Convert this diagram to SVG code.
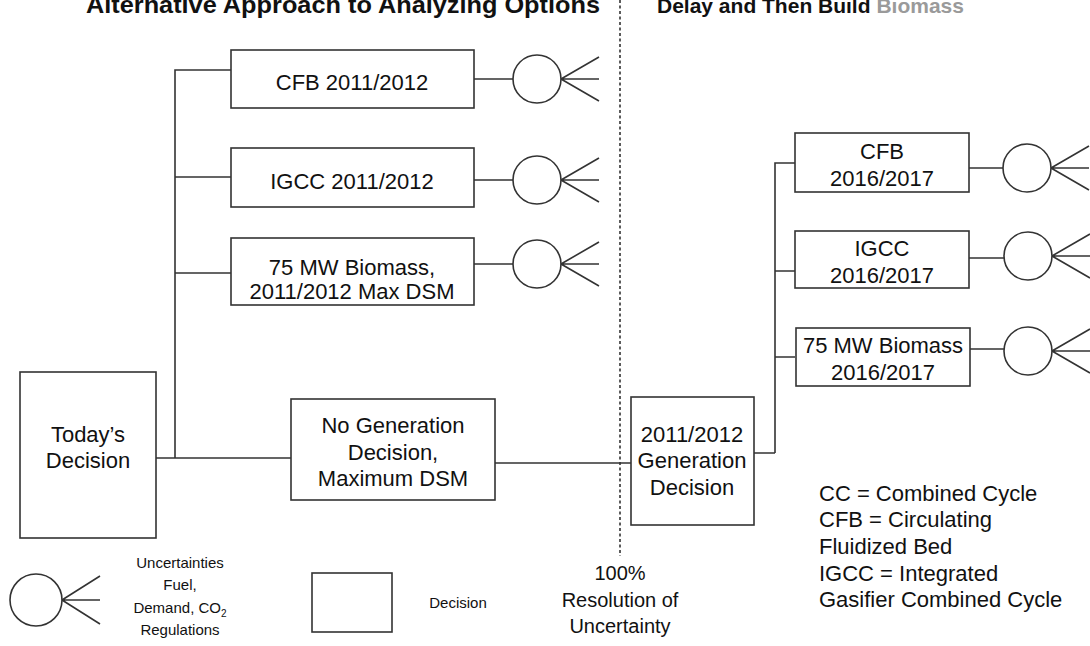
<svg xmlns="http://www.w3.org/2000/svg" width="1090" height="646" viewBox="0 0 1090 646">
<style>
.b{fill:#fff;stroke:#333;stroke-width:1.6}
.c{fill:none;stroke:#333;stroke-width:1.6}
.t{font-family:"Liberation Sans",Arial,sans-serif;font-size:22px;fill:#111;text-anchor:middle}
.l{font-family:"Liberation Sans",Arial,sans-serif;font-size:22px;fill:#111}
.s{font-family:"Liberation Sans",Arial,sans-serif;font-size:15px;fill:#111;text-anchor:middle}
.m{font-family:"Liberation Sans",Arial,sans-serif;font-size:20px;fill:#111;text-anchor:middle}
.h{font-family:"Liberation Sans",Arial,sans-serif;font-weight:bold;fill:#111}
</style>
<defs>
<g id="unc"><circle cx="0" cy="0" r="24" class="c"/><path d="M24 0 L62 -22 M24 0 L62 0 M24 0 L62 22" class="c"/></g>
</defs>
<rect width="1090" height="646" fill="#fff"/>
<g id="title">
<text class="h" font-size="24" x="86" y="13" textLength="514" lengthAdjust="spacingAndGlyphs">Alternative Approach to Analyzing Options</text>
<text class="h" font-size="21" x="657" y="13">Delay and Then Build <tspan style="fill:#9a9a9a">Biomass</tspan></text>
</g>
<g id="connectors">
<line x1="620" y1="0" x2="620" y2="556" class="c" stroke-dasharray="3,2.5"/>
<path d="M156 458 H291 M175 458 V70 H231 M175 177 H231 M175 273 H231" class="c"/>
<path d="M474 79 H513 M474 180 H513 M474 264 H513" class="c"/>
<path d="M495 463 H631 M754 453 H775 M775 453 V163 H795 M775 271 H795 M775 357 H795" class="c"/>
<path d="M969 168 H1003 M969 258 H1004 M970 349 H1004" class="c"/>
</g>
<g id="today"><rect x="20" y="372" width="136" height="166" class="b"/><text class="t" x="88" y="442">Today’s</text><text class="t" x="88" y="468">Decision</text></g>
<g id="cfb1"><rect x="231" y="50" width="243" height="58" class="b"/><text class="t" x="352" y="90">CFB 2011/2012</text></g>
<g id="igcc1"><rect x="231" y="148" width="243" height="59" class="b"/><text class="t" x="352" y="189">IGCC 2011/2012</text></g>
<g id="bio1"><rect x="231" y="238" width="243" height="67" class="b"/><text class="t" x="352" y="275">75 MW Biomass,</text><text class="t" x="352" y="299">2011/2012 Max DSM</text></g>
<g id="unc1"><use href="#unc" x="537" y="79"/></g>
<g id="unc2"><use href="#unc" x="537" y="180"/></g>
<g id="unc3"><use href="#unc" x="537" y="264"/></g>
<g id="nogen"><rect x="291" y="399" width="204" height="101" class="b"/><text class="t" x="393" y="433">No Generation</text><text class="t" x="393" y="460">Decision,</text><text class="t" x="393" y="486">Maximum DSM</text></g>
<g id="gen"><rect x="631" y="397" width="123" height="128" class="b"/><text class="t" x="692" y="442">2011/2012</text><text class="t" x="692" y="468">Generation</text><text class="t" x="692" y="495">Decision</text></g>
<g id="cfb2"><rect x="795" y="133" width="174" height="59" class="b"/><text class="t" x="882" y="159">CFB</text><text class="t" x="882" y="186">2016/2017</text></g>
<g id="igcc2"><rect x="795" y="231" width="174" height="57" class="b"/><text class="t" x="882" y="256">IGCC</text><text class="t" x="882" y="283">2016/2017</text></g>
<g id="bio2"><rect x="796" y="328" width="174" height="58" class="b"/><text class="t" x="883" y="353">75 MW Biomass</text><text class="t" x="883" y="380">2016/2017</text></g>
<g id="unc4"><use href="#unc" x="1027" y="168"/></g>
<g id="unc5"><use href="#unc" x="1028" y="256"/></g>
<g id="unc6"><use href="#unc" x="1028" y="351"/></g>
<g id="abbr"><text class="l" x="819" y="501">CC = Combined Cycle</text><text class="l" x="819" y="527">CFB = Circulating</text><text class="l" x="819" y="554">Fluidized Bed</text><text class="l" x="819" y="581">IGCC = Integrated</text><text class="l" x="819" y="607">Gasifier Combined Cycle</text></g>
<g id="legend-unc"><circle cx="36" cy="600" r="26" class="c"/><path d="M62 600 L100 576 M62 600 L100 600 M62 600 L100 624" class="c"/>
<text class="s" x="180" y="568">Uncertainties</text><text class="s" x="180" y="590">Fuel,</text><text class="s" x="180" y="613">Demand, CO<tspan font-size="10" dy="4">2</tspan></text><text class="s" x="180" y="635">Regulations</text></g>
<g id="legend-dec"><rect x="312" y="573" width="80" height="59" class="b"/><text class="s" x="458" y="608">Decision</text></g>
<g id="resolution"><text class="m" x="620" y="580">100%</text><text class="m" x="620" y="607">Resolution of</text><text class="m" x="620" y="633">Uncertainty</text></g>
</svg>
